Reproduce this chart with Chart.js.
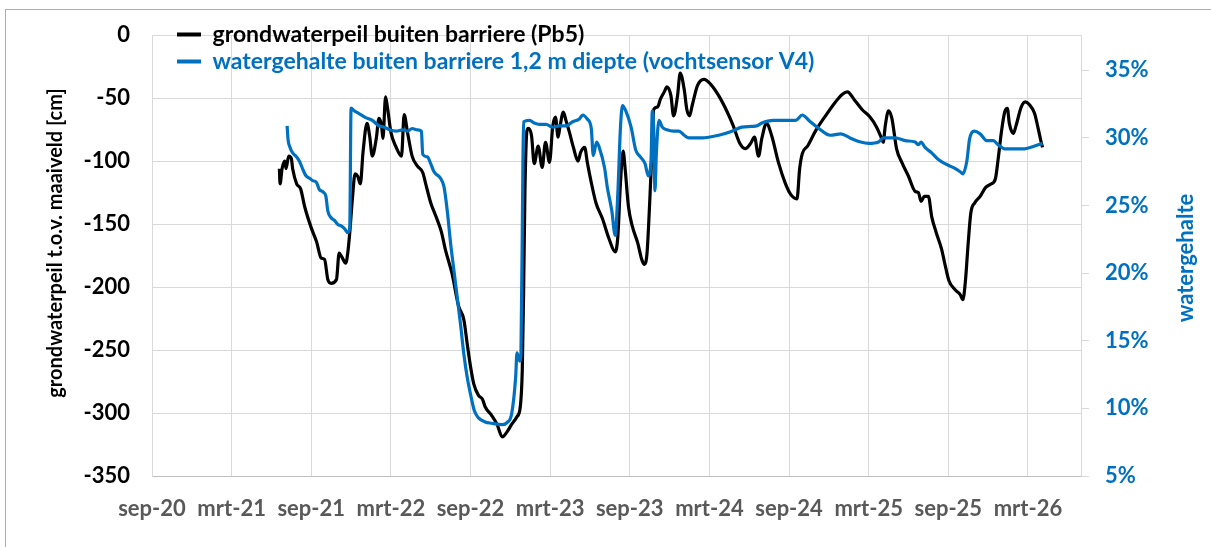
<!DOCTYPE html>
<html>
<head>
<meta charset="utf-8">
<script src="https://cdn.jsdelivr.net/npm/chart.js@4/dist/chart.umd.min.js"></script>
<style>
  html, body { margin: 0; padding: 0; background: #fff; }
  #wrap { position: relative; width: 1211px; height: 547px; overflow: hidden; }
  #frame { position: absolute; left: 5px; top: 9px; width: 1400px; height: 800px; border: 1px solid #8db4e0; }
  #box { position: absolute; left: 0; top: 0; width: 1211px; height: 547px; }
</style>
</head>
<body>
<div id="wrap">
  <div id="frame"></div>
  <div id="box"><canvas id="gwChart"></canvas></div>
</div>
<script>
// x values are months counted from sep-2020
var tickLabels = ['sep-20', 'mrt-21', 'sep-21', 'mrt-22', 'sep-22', 'mrt-23',
                  'sep-23', 'mrt-24', 'sep-24', 'mrt-25', 'sep-25', 'mrt-26'];

var pb5Months = [9.6, 9.65, 9.8, 10.0, 10.1, 10.3, 10.5, 10.6, 10.9, 11.2, 11.5, 12.0, 12.4, 12.75, 13.0,
  13.25, 13.5, 13.9, 14.1, 14.3, 14.6, 14.75, 14.9, 15.1, 15.3, 15.5, 15.7, 15.9, 16.2, 16.4, 16.6, 16.9,
  17.1, 17.3, 17.4, 17.6, 17.75, 18.0, 18.4, 18.8, 19.0, 19.25, 19.6, 20.0, 20.4, 20.6, 21.0, 21.4, 21.8,
  22.1, 22.6, 23.1, 23.5, 23.75, 24.0, 24.25, 24.6, 24.9, 25.1, 25.6, 26.0, 26.4, 26.75, 27.1, 27.5, 27.75,
  27.9, 28.0, 28.1, 28.25, 28.35, 28.6, 28.8, 29.1, 29.4, 29.65, 29.95, 30.2, 30.4, 30.6, 30.75, 31.0, 31.2,
  31.45, 31.75, 32.1, 32.3, 32.6, 32.8, 33.1, 33.45, 33.95, 34.45, 34.9, 35.1, 35.3, 35.5, 35.65, 35.9, 36.2,
  36.6, 36.9, 37.1, 37.3, 37.5, 37.7, 37.8, 38.1, 38.3, 38.6, 38.8, 39.1, 39.3, 39.6, 39.8, 40.1, 40.3, 40.5,
  40.7, 41.1, 41.6, 42.1, 42.7, 43.3, 43.8, 44.3, 44.7, 45.1, 45.4, 45.7, 45.95, 46.3, 46.7, 47.2, 47.7, 48.1,
  48.6, 48.8, 49.0, 49.4, 50.0, 50.75, 51.5, 52.0, 52.4, 52.9, 53.5, 54.1, 54.6, 54.9, 55.1, 55.25, 55.5,
  55.75, 56.1, 56.5, 57.0, 57.5, 57.75, 57.95, 58.2, 58.5, 58.75, 59.1, 59.5, 59.75, 60.05, 60.5, 60.9, 61.1,
  61.3, 61.5, 61.7, 62.0, 62.4, 62.8, 63.25, 63.55, 63.75, 64.0, 64.25, 64.45, 64.6, 64.9, 65.1, 65.5, 65.8,
  66.1, 66.5, 66.75, 67.0, 67.1];
var pb5Level = [-106, -118, -106, -100, -106, -96, -98, -106, -118, -122, -136, -153, -164, -177, -178,
  -194, -197, -194, -173, -176, -181, -173, -157, -130, -110, -112, -118, -93, -70, -80, -96, -82,
  -66, -72, -82, -49, -58, -77, -89, -96, -63, -77, -96, -104, -109, -117, -133, -144, -156,
  -170, -189, -215, -226, -245, -263, -277, -286, -289, -295, -302, -309, -319, -315, -309, -303, -295,
  -266, -205, -125, -76, -74, -80, -102, -88, -105, -85, -101, -72, -65, -81, -72, -61, -68,
  -77, -89, -100, -93, -89, -101, -117, -133, -146, -162, -172, -160, -117, -92, -106, -136, -152,
  -165, -178, -182, -173, -133, -85, -59, -57, -51, -45, -41, -48, -64, -48, -30, -43, -59, -64,
  -56, -40, -35, -39, -48, -60, -72, -86, -90, -86, -81, -96, -82, -70, -80, -101, -117, -126,
  -130, -106, -94, -88, -76, -64, -53, -47, -45, -51, -59, -65, -73, -80, -85, -72, -60,
  -66, -90, -101, -112, -124, -125, -132, -128, -128, -144, -157, -170, -182, -195, -202, -206, -210,
  -194, -165, -141, -133, -128, -121, -118, -114, -99, -77, -61, -58, -70, -78, -72, -57, -53,
  -55, -62, -73, -85, -89];

var v4Months = [10.18, 10.25, 10.4, 10.6, 10.9, 11.1, 11.4, 11.6, 11.9, 12.1, 12.4, 12.6, 12.9, 13.1, 13.25,
  13.5, 13.75, 14.0, 14.25, 14.5, 14.75, 14.9, 15.0, 15.25, 15.6, 16.1, 16.6, 17.1, 17.5, 17.9, 18.4, 18.9,
  19.25, 19.6, 20.0, 20.3, 20.4, 20.75, 21.0, 21.25, 21.75, 22.0, 22.25, 22.5, 22.75, 23.0, 23.25, 23.5,
  23.75, 24.0, 24.3, 24.6, 25.1, 25.6, 26.4, 26.75, 27.1, 27.4, 27.5, 27.7, 27.8, 27.95, 28.0, 28.45, 28.8,
  29.2, 29.7, 30.2, 30.7, 31.2, 31.7, 32.2, 32.45, 32.8, 33.1, 33.25, 33.5, 33.7, 34.1, 34.3, 34.65, 34.9,
  35.1, 35.3, 35.45, 35.7, 36.1, 36.45, 36.8, 37.15, 37.4, 37.6, 37.7, 37.8, 37.9, 38.0, 38.2, 38.45, 38.8,
  39.3, 39.7, 40.1, 40.45, 41.45, 42.7, 43.7, 44.45, 45.2, 45.6, 45.95, 46.8, 47.7, 48.5, 49.0, 49.5, 50.25,
  51.1, 51.9, 52.6, 53.4, 54.0, 54.75, 55.1, 56.0, 56.75, 57.5, 57.75, 57.95, 58.25, 58.75, 59.25, 59.75,
  60.4, 60.9, 61.1, 61.4, 61.6, 61.95, 62.4, 62.9, 63.4, 63.75, 64.25, 64.75, 65.75, 66.5, 67.1];
var v4Moisture = [30.9, 29.9, 29.3, 28.9, 28.6, 28.3, 27.6, 27.2, 27.0, 26.85, 26.7, 26.2, 26.0, 25.7, 24.6,
  24.1, 23.9, 23.6, 23.5, 23.3, 23.0, 23.3, 32.2, 32.0, 31.8, 31.5, 31.3, 30.9, 30.8, 30.6, 30.5, 30.6,
  30.5, 30.7, 30.6, 30.5, 28.8, 28.6, 28.1, 27.5, 27.0, 26.4, 24.6, 22.2, 20.2, 18.2, 16.2, 14.0,
  12.3, 11.05, 9.8, 9.3, 9.0, 8.9, 8.8, 8.95, 9.6, 12.3, 14.1, 13.5, 14.0, 28.3, 31.2, 31.3, 31.1,
  31.0, 31.0, 30.8, 30.9, 30.9, 31.2, 31.4, 31.7, 31.4, 30.7, 28.7, 29.7, 29.3, 27.8, 26.4, 24.6, 22.8,
  25.9, 30.8, 32.4, 32.0, 30.8, 29.1, 28.6, 28.1, 27.2, 28.3, 32.0, 30.8, 26.1, 28.8, 31.3, 30.8, 30.6,
  30.5, 30.5, 30.2, 30.0, 30.0, 30.2, 30.5, 30.8, 30.85, 30.9, 31.1, 31.3, 31.3, 31.3, 31.7, 31.3, 30.7,
  30.2, 30.3, 30.0, 29.7, 29.6, 29.7, 30.0, 30.0, 29.8, 29.7, 29.5, 29.7, 29.3, 28.9, 28.4, 28.1,
  27.8, 27.5, 27.35, 28.3, 29.9, 30.5, 30.3, 29.8, 29.8, 29.5, 29.2, 29.2, 29.2, 29.4, 29.6];

var FONT = "Lato, 'Liberation Sans', sans-serif";

function toPoints(xs, ys) {
    return xs.map(function(x, i) { return { x: x, y: ys[i] }; });
}

// rotated axis titles and legend placement inside the plot
var extras = {
    id: 'extras',
    afterLayout: function(chart) {
        var lg = chart.legend;
        if (!lg) return;
        var w = lg.width, h = lg.height;
        lg.left = 173; lg.right = 173 + w;
        lg.top = 19; lg.bottom = 19 + h;
    },
    afterDraw: function(chart) {
        var ctx = chart.ctx;
        ctx.save();
        ctx.font = 'bold 20px ' + FONT;
        ctx.textAlign = 'center';
        ctx.textBaseline = 'middle';
        ctx.translate(56, 243);
        ctx.rotate(-Math.PI / 2);
        ctx.fillStyle = '#000';
        ctx.fillText('grondwaterpeil t.o.v. maaiveld [cm]', 0, 0);
        ctx.restore();
        ctx.save();
        ctx.font = 'bold 22px ' + FONT;
        ctx.textAlign = 'center';
        ctx.textBaseline = 'middle';
        ctx.translate(1186, 258);
        ctx.rotate(-Math.PI / 2);
        ctx.fillStyle = '#0070C0';
        ctx.fillText('watergehalte', 0, 0);
        ctx.restore();
    }
};

var ctx = document.getElementById('gwChart').getContext('2d');
new Chart(ctx, {
    type: 'line',
    data: {
        datasets: [
            {
                label: 'grondwaterpeil buiten barriere (Pb5)',
                data: toPoints(pb5Months, pb5Level),
                borderColor: '#000000',
                backgroundColor: '#000000',
                borderWidth: 3.2,
                pointRadius: 0,
                cubicInterpolationMode: 'monotone',
                yAxisID: 'y',
                order: 2
            },
            {
                label: 'watergehalte buiten barriere 1,2 m diepte (vochtsensor V4)',
                data: toPoints(v4Months, v4Moisture),
                borderColor: '#0070C0',
                backgroundColor: '#0070C0',
                borderWidth: 3.2,
                pointRadius: 0,
                cubicInterpolationMode: 'monotone',
                yAxisID: 'y1',
                order: 1
            }
        ]
    },
    options: {
        responsive: true,
        maintainAspectRatio: false,
        animation: false,
        layout: { padding: { top: 35, left: 0, right: 0, bottom: 0 } },
        plugins: {
            tooltip: { enabled: false },
            legend: {
                position: 'chartArea',
                align: 'start',
                labels: {
                    boxWidth: 24,
                    boxHeight: 4,
                    padding: 4,
                    font: { size: 23, weight: 'bold', family: FONT },
                    generateLabels: function(chart) {
                        return chart.data.datasets.map(function(ds, i) {
                            return {
                                text: ds.label,
                                fillStyle: ds.borderColor,
                                strokeStyle: ds.borderColor,
                                fontColor: ds.borderColor,
                                lineWidth: 0,
                                datasetIndex: i
                            };
                        });
                    }
                }
            }
        },
        scales: {
            x: {
                type: 'linear',
                min: 0,
                max: 70,
                afterFit: function(scale) { scale.height = 71; },
                afterBuildTicks: function(scale) {
                    scale.ticks = tickLabels.map(function(t, i) { return { value: i * 6 }; });
                },
                grid: { color: '#d9d9d9', drawTicks: false },
                border: { color: '#bfbfbf' },
                ticks: {
                    autoSkip: false,
                    maxRotation: 0,
                    padding: 20,
                    color: '#595959',
                    font: { size: 22, weight: 'bold', family: FONT },
                    callback: function(v) { return tickLabels[Math.round(v / 6)]; }
                }
            },
            y: {
                position: 'left',
                min: -350,
                max: 0,
                afterFit: function(scale) { scale.width = 152; },
                grid: { color: '#d9d9d9', drawTicks: false },
                border: { color: '#d9d9d9' },
                ticks: {
                    stepSize: 50,
                    padding: 22,
                    color: '#000000',
                    font: { size: 22, weight: 'bold', family: FONT }
                }
            },
            y1: {
                position: 'right',
                min: 5,
                max: 37.6,
                afterFit: function(scale) { scale.width = 130; },
                afterBuildTicks: function(scale) {
                    scale.ticks = [5, 10, 15, 20, 25, 30, 35].map(function(v) { return { value: v }; });
                },
                grid: { drawOnChartArea: false, color: '#d9d9d9', tickLength: 8 },
                border: { color: '#d9d9d9' },
                ticks: {
                    padding: 16,
                    color: '#0070C0',
                    font: { size: 22, weight: 'bold', family: FONT },
                    callback: function(v) { return v + '%'; }
                }
            }
        }
    },
    plugins: [extras]
});
</script>
</body>
</html>
